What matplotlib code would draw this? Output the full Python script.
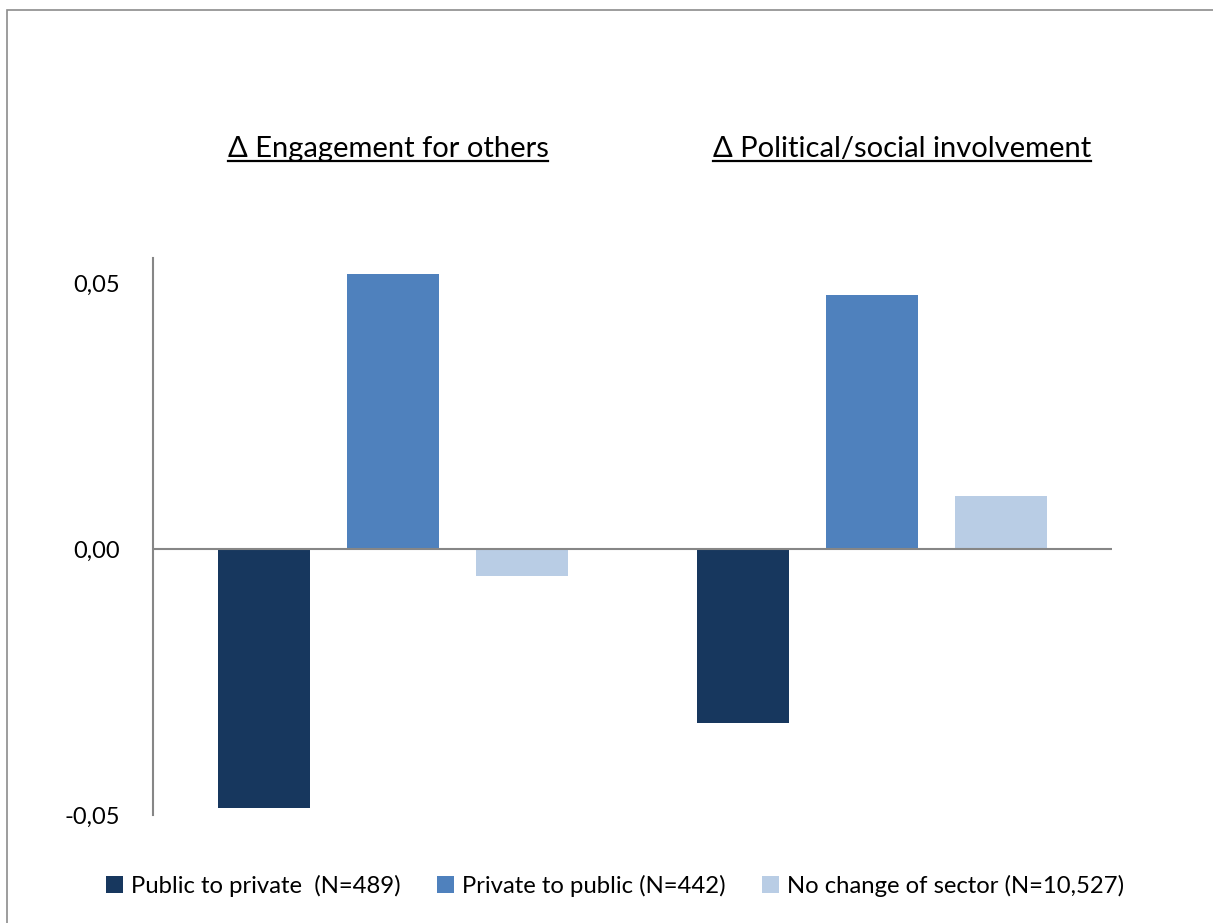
import matplotlib
matplotlib.use("Agg")
import matplotlib.pyplot as plt
from matplotlib.lines import Line2D
from matplotlib.patches import Rectangle
import numpy as np

categories = ["\u0394 Engagement for others", "\u0394 Political/social involvement"]
series_names = ["Public to private  (N=489)", "Private to public (N=442)", "No change of sector (N=10,527)"]
public_to_private = [-0.0487, -0.0327]
private_to_public = [0.0517, 0.0477]
no_change = [-0.0051, 0.0100]
tick_values = [-0.05, 0.0, 0.05]
tick_labels = ["-0,05", "0,00", "0,05"]

colors = ["#17375E", "#4F81BD", "#B9CDE5"]
FONT = ["Lato", "DejaVu Sans"]
plt.rcParams["font.family"] = FONT

W, H = 1213, 923
fig = plt.figure(figsize=(W / 100, H / 100), dpi=100)
fig.patch.set_facecolor("white")

# outer chart border (left and top visible)
fig.add_artist(Rectangle((7 / W, -0.05), 1.2, (H - 10) / H + 0.05, transform=fig.transFigure,
                         fill=False, edgecolor="#8C8C8C", linewidth=1.2))

ax = fig.add_axes([153 / W, (H - 815) / H, (1112 - 153) / W, (815 - 258) / H])
x = np.arange(len(categories))
bw = 92 / 480
step = 129 / 480
series = [public_to_private, private_to_public, no_change]
for i, (vals, name, c) in enumerate(zip(series, series_names, colors)):
    ax.bar(x + (i - 1) * step, vals, width=bw, color=c, label=name, zorder=2)

ax.set_xlim(-0.5, 1.5)
ax.set_ylim(-0.05, 0.0547)
ax.axhline(0, color="#868686", linewidth=1.5, zorder=3)
for s in ["top", "right", "bottom"]:
    ax.spines[s].set_visible(False)
ax.spines["left"].set_color("#868686")
ax.spines["left"].set_linewidth(1.5)
ax.set_xticks([])
ax.set_yticks(tick_values)
ax.set_yticklabels(tick_labels)
ax.tick_params(axis="y", length=0, pad=23.5, labelsize=17, labelcolor="black")

# category titles above (positioned as text boxes in the figure)
title_x = [388 / W, 902 / W]
title_texts = []
for xf, cat in zip(title_x, categories):
    t = fig.text(xf, (H - 157) / H, cat, ha="center", va="baseline", fontsize=21, color="black")
    title_texts.append(t)

leg = fig.legend(loc="center", bbox_to_anchor=(615 / W, (H - 886) / H), ncol=3, frameon=False,
                 fontsize=17.2, handlelength=0.72, handleheight=0.72, handletextpad=0.35,
                 columnspacing=1.5)

fig.canvas.draw()
r = fig.canvas.get_renderer()
for t in title_texts:
    bb = t.get_window_extent(r)
    yb = t.get_position()[1] * H - 3.5
    fig.add_artist(Line2D([bb.x0 / W, bb.x1 / W], [yb / H, yb / H], transform=fig.transFigure,
                          color="black", linewidth=1.6))

fig.savefig("out.png", dpi=100, facecolor="white")
